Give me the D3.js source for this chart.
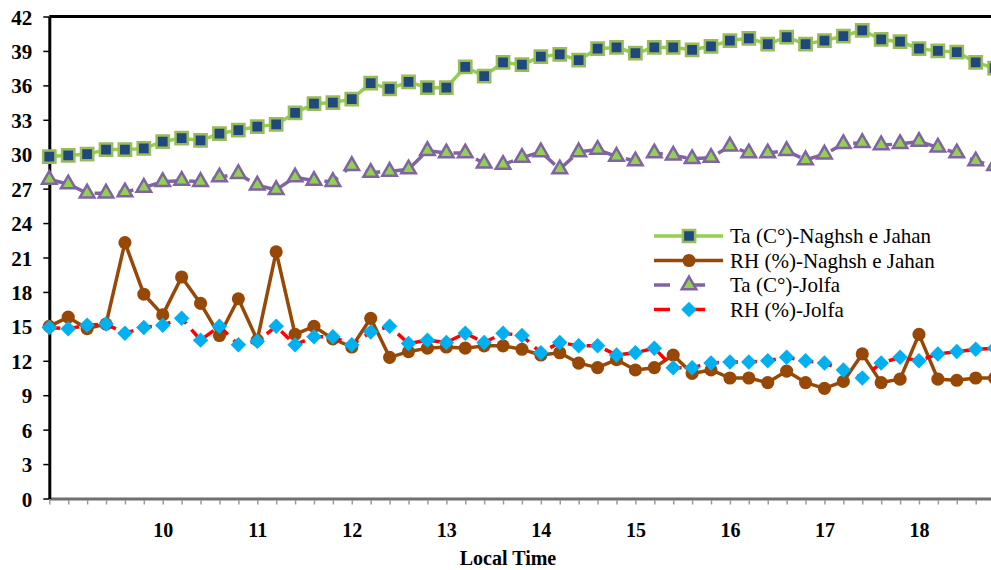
<!DOCTYPE html>
<html>
<head>
<meta charset="utf-8">
<script src="https://cdn.jsdelivr.net/npm/d3@7"></script>
<style>
  body { margin: 0; background: #fff; }
  svg { display: block; font-family: "Liberation Serif", "Times New Roman", serif; }
</style>
</head>
<body>
<div id="chart"></div>
<script>
const w = 991;
const h = 570;

// local time, every 12 minutes
const times = [8.8, 9.0, 9.2, 9.4, 9.6, 9.8, 10.0, 10.2, 10.4, 10.6, 10.8, 11.0, 11.2, 11.4, 11.6, 11.8,
  12.0, 12.2, 12.4, 12.6, 12.8, 13.0, 13.2, 13.4, 13.6, 13.8, 14.0, 14.2, 14.4, 14.6, 14.8, 15.0,
  15.2, 15.4, 15.6, 15.8, 16.0, 16.2, 16.4, 16.6, 16.8, 17.0, 17.2, 17.4, 17.6, 17.8, 18.0, 18.2,
  18.4, 18.6, 18.8];

const taNaghsh = [29.8, 29.9, 30.0, 30.4, 30.4, 30.5, 31.1, 31.4, 31.2, 31.8, 32.1, 32.4, 32.6, 33.6, 34.4, 34.5,
  34.8, 36.2, 35.7, 36.3, 35.8, 35.8, 37.6, 36.8, 38.0, 37.8, 38.5, 38.7, 38.2, 39.2, 39.3, 38.8,
  39.3, 39.3, 39.1, 39.4, 39.9, 40.1, 39.6, 40.2, 39.6, 39.9, 40.3, 40.8, 40.0, 39.8, 39.2, 39.0,
  38.9, 38.0, 37.5];

const rhNaghsh = [15.0, 15.8, 14.8, 15.2, 22.3, 17.8, 16.0, 19.3, 17.0, 14.2, 17.4, 13.8, 21.5, 14.3, 15.0, 13.9,
  13.2, 15.7, 12.3, 12.8, 13.1, 13.2, 13.1, 13.3, 13.3, 13.0, 12.5, 12.7, 11.8, 11.4, 12.1, 11.2,
  11.4, 12.5, 10.9, 11.2, 10.5, 10.5, 10.1, 11.1, 10.1, 9.6, 10.2, 12.6, 10.1, 10.4, 14.3, 10.4,
  10.3, 10.5, 10.5];

const taJolfa = [27.8, 27.4, 26.6, 26.6, 26.7, 27.1, 27.6, 27.7, 27.6, 28.0, 28.3, 27.3, 26.9, 28.0, 27.7, 27.6,
  29.0, 28.4, 28.5, 28.7, 30.3, 30.1, 30.1, 29.2, 29.1, 29.7, 30.2, 28.7, 30.2, 30.4, 29.8, 29.4,
  30.1, 29.9, 29.6, 29.7, 30.7, 30.1, 30.1, 30.3, 29.5, 30.0, 30.9, 31.0, 30.8, 30.9, 31.1, 30.6,
  30.1, 29.4, 29.0];

const rhJolfa = [14.9, 14.8, 15.1, 15.2, 14.4, 14.9, 15.1, 15.7, 13.8, 15.0, 13.4, 13.7, 15.0, 13.4, 14.1, 14.1,
  13.4, 14.5, 15.0, 13.5, 13.8, 13.6, 14.4, 13.6, 14.4, 14.2, 12.7, 13.6, 13.3, 13.3, 12.5, 12.7,
  13.1, 11.4, 11.4, 11.8, 11.9, 11.9, 12.0, 12.3, 12.0, 11.8, 11.2, 10.5, 11.8, 12.3, 12.0, 12.6,
  12.8, 13.0, 13.1];

const yTicks = [0, 3, 6, 9, 12, 15, 18, 21, 24, 27, 30, 33, 36, 39, 42];
const seriesNames = ['Ta (C°)-Naghsh e Jahan', 'RH (%)-Naghsh e Jahan', 'Ta (C°)-Jolfa', 'RH (%)-Jolfa'];

const series = [
  { name: seriesNames[0], values: taNaghsh, line: '#92D050', dash: null,
    symbol: d3.symbolSquare, size: 150, fill: '#1F497D', stroke: '#9BBB59', sw: 2.5, rot: 0 },
  { name: seriesNames[1], values: rhNaghsh, line: '#974806', dash: null,
    symbol: d3.symbolCircle, size: 135, fill: '#974806', stroke: 'none', sw: 0, rot: 0 },
  { name: seriesNames[2], values: taJolfa, line: '#8064A2', dash: '15,9',
    symbol: d3.symbolTriangle, size: 92, fill: '#92D050', stroke: '#8064A2', sw: 2.5, rot: 0 },
  { name: seriesNames[3], values: rhJolfa, line: '#FF0000', dash: '11,8',
    symbol: d3.symbolSquare, size: 120, fill: '#00B0F0', stroke: 'none', sw: 0, rot: 45 }
];

const svg = d3.select('#chart')
  .append('svg')
  .attr('width', w)
  .attr('height', h);

const xScale = d3.scaleLinear().domain([8.8, 18.8]).range([49.3, 994.6]);
const yScale = d3.scaleLinear().domain([0, 42]).range([498.5, 16.5]);

// top border of plot area
svg.append('line')
  .attr('x1', 49.3).attr('x2', w + 10)
  .attr('y1', yScale(42)).attr('y2', yScale(42))
  .attr('stroke', '#000')
  .attr('stroke-width', 3);

// x axis
const xAxis = d3.axisBottom(xScale)
  .tickValues(times)
  .tickSize(6)
  .tickSizeOuter(0)
  .tickFormat(d => Math.abs(d - Math.round(d)) < 1e-6 && d > 9.5 ? d3.format('d')(Math.round(d)) : '');

const gx = svg.append('g')
  .attr('transform', 'translate(0,' + yScale(0) + ')')
  .call(xAxis);
gx.attr('font-family', null);
gx.select('.domain').attr('stroke', '#6f6f6f').attr('stroke-width', 3);
gx.selectAll('.tick line').attr('stroke', '#9a9a9a').attr('stroke-width', 1.5).attr('y1', 1.5);
gx.selectAll('.tick text')
  .attr('y', 20)
  .attr('dy', '0.9em')
  .style('font-family', '"Liberation Serif", serif')
  .style('font-size', '20px')
  .style('font-weight', 'bold')
  .attr('fill', '#000');

// y axis
const yAxis = d3.axisLeft(yScale)
  .tickValues(yTicks)
  .tickSize(6)
  .tickSizeOuter(0)
  .tickFormat(d3.format('d'));

const gy = svg.append('g')
  .attr('transform', 'translate(49.3,0)')
  .call(yAxis);
gy.attr('font-family', null);
gy.select('.domain').attr('stroke', '#000').attr('stroke-width', 3);
gy.selectAll('.tick line').attr('stroke', '#000').attr('stroke-width', 1.5);
gy.selectAll('.tick text')
  .attr('x', -17)
  .attr('dy', '0.36em')
  .style('font-family', '"Liberation Serif", serif')
  .style('font-size', '21px')
  .style('font-weight', 'bold')
  .attr('fill', '#000');

// x axis title
svg.append('text')
  .attr('x', 508)
  .attr('y', 565)
  .attr('text-anchor', 'middle')
  .style('font-size', '20px')
  .style('font-weight', 'bold')
  .text('Local Time');

const plot = svg.append('g');

series.forEach(s => {
  const line = d3.line()
    .x((d, i) => xScale(times[i]))
    .y(d => yScale(d));

  plot.append('path')
    .datum(s.values)
    .attr('d', line)
    .attr('fill', 'none')
    .attr('stroke', s.line)
    .attr('stroke-width', 3.5)
    .attr('stroke-dasharray', s.dash)
    .attr('stroke-linejoin', 'round');

  plot.selectAll(null)
    .data(s.values)
    .enter()
    .append('path')
    .attr('d', d3.symbol().type(s.symbol).size(s.size))
    .attr('transform', (d, i) => 'translate(' + xScale(times[i]) + ',' + yScale(d) + ') rotate(' + s.rot + ')')
    .attr('fill', s.fill)
    .attr('stroke', s.stroke)
    .attr('stroke-width', s.sw);
});

// legend
const legend = svg.append('g')
  .attr('id', 'legend')
  .attr('transform', 'translate(654,236)');

series.forEach((s, i) => {
  const row = legend.append('g').attr('transform', 'translate(0,' + (i * 24.5) + ')');
  row.append('line')
    .attr('x1', 0).attr('x2', 69)
    .attr('stroke', s.line)
    .attr('stroke-width', 3.5)
    .attr('stroke-dasharray', s.dash ? '16,19' : null);
  row.append('path')
    .attr('d', d3.symbol().type(s.symbol).size(s.size))
    .attr('transform', 'translate(35,0) rotate(' + s.rot + ')')
    .attr('fill', s.fill)
    .attr('stroke', s.stroke)
    .attr('stroke-width', s.sw);
  row.append('text')
    .attr('x', 76)
    .attr('dy', '0.35em')
    .style('font-size', '21px')
    .text(s.name);
});
</script>
</body>
</html>
